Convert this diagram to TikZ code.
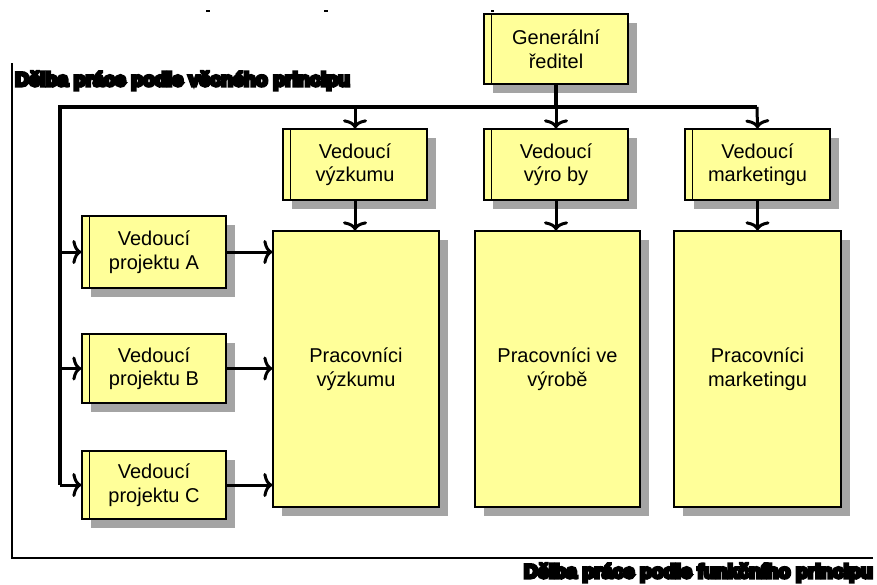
\documentclass[tikz,border=0pt]{standalone}
\usepackage{fontspec}
\setmainfont{Liberation Sans}
\newfontfamily\heavyfont[FakeBold=16, BoldFeatures={FakeBold=16}]{Liberation Sans}
\usetikzlibrary{arrows.meta,shadows}
\definecolor{boxfill}{HTML}{FFFF99}
\definecolor{shadowgray}{HTML}{A4A4A4}
\begin{document}
\begin{tikzpicture}[x=1pt,y=-1pt,
  box/.style={draw=black, line width=1.3pt, fill=boxfill, inner sep=0pt, align=center,
    font=\fontsize{20}{23.5}\selectfont,
    general shadow={fill=shadowgray, shadow xshift=9pt, shadow yshift=-9pt}},
  smallbox/.style={box, minimum width=144pt, minimum height=71pt},
  bigbox/.style={box, minimum width=166pt, minimum height=276pt},
  bus/.style={line width=4.5pt, line join=miter},
  arr/.style={line width=3pt, -{To[length=9pt,width=24pt]}},
  frame/.style={line width=1.8pt},
  heading/.style={inner sep=0pt, font=\heavyfont\bfseries\fontsize{19.5}{20}\selectfont}
]
\useasboundingbox (0,0) rectangle (877,584);

% frame
\draw[frame] (12,63) -- (12,558) -- (873,558);
\node[heading, anchor=base west] (lt) at (15,86) {Dělba práce podle věcného principu};
\node[heading, anchor=base east] (lb) at (873,578) {Dělba práce podle funkčního principu};

% tiny marks at top
\draw[line width=1.2pt] (206,11) -- (210,11);
\draw[line width=1.2pt] (324,11) -- (328,11);
\draw[line width=1.2pt] (491,11) -- (494,11);

% boxes
\node[smallbox, minimum height=70pt] (gr) at (556,49) {Generální\\ředitel};
\node[smallbox] (vv) at (355,164.5) {Vedoucí\\výzkumu};
\node[smallbox] (vy) at (556,164.5) {Vedoucí\\výro by};
\node[smallbox, minimum width=145pt] (vm) at (757.5,164.5) {Vedoucí\\marketingu};

\node[bigbox] (pv) at (356,369) {Pracovníci\\výzkumu};
\node[bigbox, minimum width=165pt] (py) at (557.5,369) {Pracovníci ve\\výrobě};
\node[bigbox, minimum width=167pt] (pm) at (757.5,369) {Pracovníci\\marketingu};

\node[smallbox, minimum height=72pt] (pa) at (154,252) {Vedoucí\\projektu A};
\node[smallbox, minimum height=69pt] (pb) at (154,368.5) {Vedoucí\\projektu B};
\node[smallbox, minimum height=68pt] (pc) at (154,485) {Vedoucí\\projektu C};

% inner stripes
\foreach \n in {gr,vv,vy,vm,pa,pb,pc}
  \draw[line width=1.3pt] ([xshift=8pt]\n.north west) -- ([xshift=8pt]\n.south west);

% bus
\coordinate (busL) at (60,107);
\coordinate (busR) at (757,107);
\coordinate (busB) at (60,485);
\draw[bus] (gr.south) -- (gr.south |- busL);
\draw[bus] (busR) -- (busL) -- (busB);

% arrows down
\draw[arr] (vv.north |- busL) -- (vv.north);
\draw[arr] (vy.north |- busL) -- (vy.north);
\draw[arr] (busR) -- (vm.north);
\draw[arr] (vv.south) -- (vv.south |- pv.north);
\draw[arr] (vy.south) -- (vy.south |- py.north);
\draw[arr] (vm.south) -- (vm.south |- pm.north);

% arrows to project leaders
\draw[arr] (busL |- pa.west) -- (pa.west);
\draw[arr] (busL |- pb.west) -- (pb.west);
\draw[arr] (busB) -- (pc.west);

% arrows to research workers
\draw[arr] (pa.east) -- (pa.east -| pv.west);
\draw[arr] (pb.east) -- (pb.east -| pv.west);
\draw[arr] (pc.east) -- (pc.east -| pv.west);
\end{tikzpicture}
\end{document}
